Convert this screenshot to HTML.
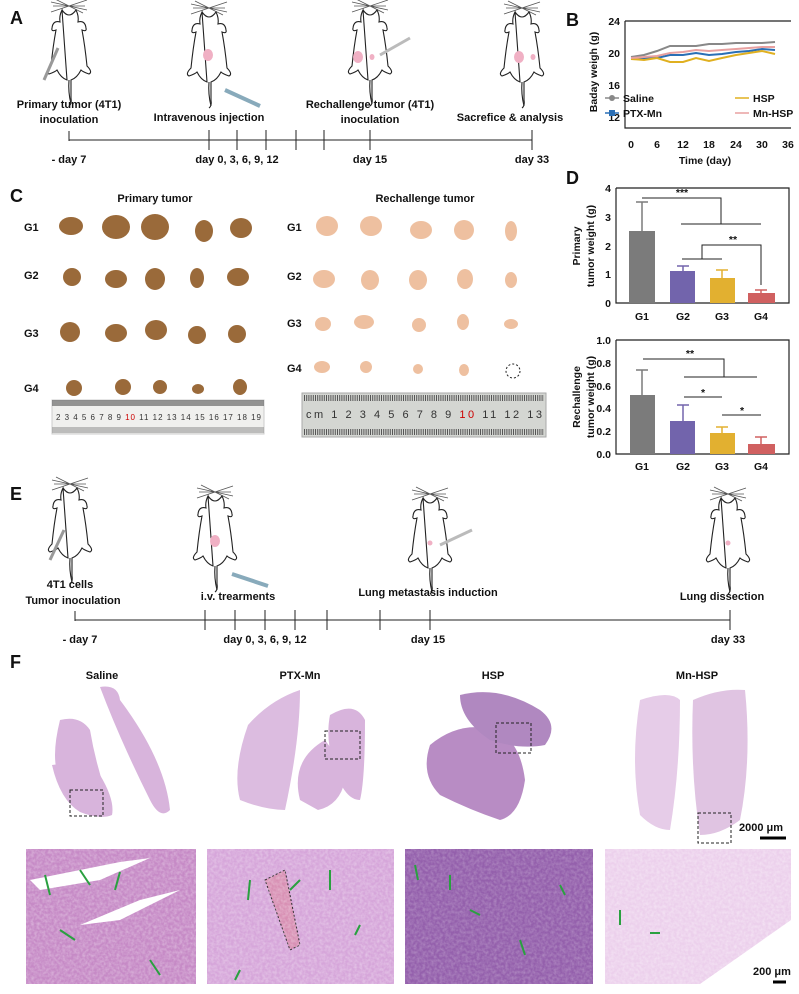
<!DOCTYPE html>
<html><head><meta charset="utf-8"><style>
html,body{margin:0;padding:0;background:#fff}
svg{display:block;font-family:"Liberation Sans",Arial,sans-serif}
.t{font-size:11px;font-weight:bold;fill:#111}
.L{font-size:18px;font-weight:bold;fill:#111}
.ax{font-size:10.5px;font-weight:bold;fill:#111}
</style></head><body>
<svg width="799" height="994" viewBox="0 0 799 994" xmlns="http://www.w3.org/2000/svg">
<defs>
<g id="mouse" fill="#fff" stroke="#222" stroke-width="1.1">
 <path d="M-18 6 L18 -6 M-18 -4 L18 4 M-16 0 L16 0 M-14 -7 L14 7" stroke="#555" stroke-width="0.8"/>
 <path d="M-7 4 Q0 14 7 4 Q10 10 9 16 Q16 14 17 22 Q18 26 13 24 Q16 40 18 60 Q24 66 20 68 Q14 66 12 64 Q8 72 2 74 L2 92 Q3 98 0 100 M-2 74 Q-8 72 -12 64 Q-14 66 -20 68 Q-24 66 -18 60 Q-16 40 -13 24 Q-18 26 -17 22 Q-16 14 -9 16 Q-10 10 -7 4 Z"/>
 <path d="M0 74 Q-1 86 2 98" fill="none"/>
</g>
<filter id="tex" x="0" y="0" width="100%" height="100%"><feTurbulence type="fractalNoise" baseFrequency="0.35" numOctaves="2" seed="3"/><feColorMatrix values="0 0 0 0 1  0 0 0 0 1  0 0 0 0 1  0 0 0 -1.6 1.1"/><feComposite in2="SourceGraphic" operator="in"/></filter>
</defs>

<!-- Panel A -->
<text x="10" y="24" class="L">A</text>
<use href="#mouse" x="69" y="6"/><use href="#mouse" x="209" y="8"/><use href="#mouse" x="370" y="6"/><use href="#mouse" x="522" y="8"/>
<line x1="44" y1="80" x2="58" y2="48" stroke="#999" stroke-width="3"/>
<line x1="225" y1="90" x2="260" y2="106" stroke="#8ab" stroke-width="4"/>
<line x1="380" y1="55" x2="410" y2="38" stroke="#bbb" stroke-width="3"/>
<ellipse cx="208" cy="55" rx="5" ry="6" fill="#f0b0c4"/>
<ellipse cx="358" cy="57" rx="5" ry="6" fill="#f0b0c4"/><ellipse cx="372" cy="57" rx="2.5" ry="3" fill="#f0b0c4"/>
<ellipse cx="519" cy="57" rx="5" ry="6" fill="#f0b0c4"/><ellipse cx="533" cy="57" rx="2.5" ry="3" fill="#f0b0c4"/>
<text x="69" y="108" class="t" text-anchor="middle">Primary tumor (4T1)</text>
<text x="69" y="123" class="t" text-anchor="middle">inoculation</text>
<text x="209" y="121" class="t" text-anchor="middle">Intravenous injection</text>
<text x="370" y="108" class="t" text-anchor="middle">Rechallenge tumor (4T1)</text>
<text x="370" y="123" class="t" text-anchor="middle">inoculation</text>
<text x="510" y="121" class="t" text-anchor="middle">Sacrefice &amp; analysis</text>
<g stroke="#222" stroke-width="1"><line x1="69" y1="140" x2="532" y2="140"/>
<line x1="69" y1="131" x2="69" y2="141"/><line x1="209" y1="130" x2="209" y2="150"/><line x1="237" y1="130" x2="237" y2="150"/><line x1="266" y1="130" x2="266" y2="150"/><line x1="296" y1="130" x2="296" y2="150"/><line x1="324" y1="130" x2="324" y2="150"/><line x1="370" y1="130" x2="370" y2="150"/><line x1="532" y1="130" x2="532" y2="150"/></g>
<text x="69" y="163" class="t" text-anchor="middle">- day 7</text>
<text x="237" y="163" class="t" text-anchor="middle">day 0, 3, 6, 9, 12</text>
<text x="370" y="163" class="t" text-anchor="middle">day 15</text>
<text x="532" y="163" class="t" text-anchor="middle">day 33</text>

<!-- Panel B -->
<text x="566" y="26" class="L">B</text>
<g stroke="#222" stroke-width="1.2" fill="none"><path d="M625 21 L625 128 L791 128"/><line x1="625" y1="21" x2="791" y2="21"/></g>
<g class="ax"><text x="620" y="25" text-anchor="end">24</text><text x="620" y="57" text-anchor="end">20</text><text x="620" y="89" text-anchor="end">16</text><text x="620" y="121" text-anchor="end">12</text>
<text x="631" y="148" text-anchor="middle">0</text><text x="657" y="148" text-anchor="middle">6</text><text x="683" y="148" text-anchor="middle">12</text><text x="709" y="148" text-anchor="middle">18</text><text x="736" y="148" text-anchor="middle">24</text><text x="762" y="148" text-anchor="middle">30</text><text x="788" y="148" text-anchor="middle">36</text>
<text x="705" y="164" text-anchor="middle">Time (day)</text>
<text transform="translate(597,72) rotate(-90)" text-anchor="middle">Baday weigh (g)</text></g>
<polyline points="631,57 644,55 657,51 670,46 683,46 696,46 709,44 722,44 736,43 749,43 762,43 775,42" fill="none" stroke="#888" stroke-width="2"/>
<polyline points="631,59 644,58 657,58 670,55 683,55 696,53 709,55 722,54 736,52 749,51 762,49 775,50" fill="none" stroke="#2a6fb5" stroke-width="2"/>
<polyline points="631,59 644,60 657,58 670,62 683,62 696,58 709,61 722,58 736,55 749,53 762,51 775,54" fill="none" stroke="#e0b020" stroke-width="2"/>
<polyline points="631,58 644,57 657,56 670,53 683,52 696,50 709,51 722,50 736,49 749,48 762,47 775,47" fill="none" stroke="#e8a0a0" stroke-width="2"/>
<circle cx="612" cy="98" r="3" fill="#888"/><line x1="605" y1="98" x2="619" y2="98" stroke="#888" stroke-width="1.5"/><text x="623" y="102" class="ax">Saline</text>
<rect x="609" y="110" width="6" height="6" fill="#2a6fb5"/><line x1="605" y1="113" x2="619" y2="113" stroke="#2a6fb5" stroke-width="1.5"/><text x="623" y="117" class="ax">PTX-Mn</text>
<line x1="735" y1="98" x2="749" y2="98" stroke="#e0b020" stroke-width="1.5"/><text x="753" y="102" class="ax">HSP</text>
<line x1="735" y1="113" x2="749" y2="113" stroke="#e8a0a0" stroke-width="1.5"/><text x="753" y="117" class="ax">Mn-HSP</text>

<!-- Panel C -->
<text x="10" y="202" class="L">C</text>
<text x="155" y="202" class="t" text-anchor="middle" font-size="12">Primary tumor</text>
<text x="425" y="202" class="t" text-anchor="middle" font-size="12">Rechallenge tumor</text>
<g class="t" font-size="12"><text x="24" y="231">G1</text><text x="24" y="279">G2</text><text x="24" y="337">G3</text><text x="24" y="392">G4</text>
<text x="287" y="231">G1</text><text x="287" y="280">G2</text><text x="287" y="327">G3</text><text x="287" y="372">G4</text></g>
<g fill="#9a6a3a">
<ellipse cx="71" cy="226" rx="12" ry="9"/><ellipse cx="116" cy="227" rx="14" ry="12"/><ellipse cx="155" cy="227" rx="14" ry="13"/><ellipse cx="204" cy="231" rx="9" ry="11"/><ellipse cx="241" cy="228" rx="11" ry="10"/>
<ellipse cx="72" cy="277" rx="9" ry="9"/><ellipse cx="116" cy="279" rx="11" ry="9"/><ellipse cx="155" cy="279" rx="10" ry="11"/><ellipse cx="197" cy="278" rx="7" ry="10"/><ellipse cx="238" cy="277" rx="11" ry="9"/>
<ellipse cx="70" cy="332" rx="10" ry="10"/><ellipse cx="116" cy="333" rx="11" ry="9"/><ellipse cx="156" cy="330" rx="11" ry="10"/><ellipse cx="197" cy="335" rx="9" ry="9"/><ellipse cx="237" cy="334" rx="9" ry="9"/>
<ellipse cx="74" cy="388" rx="8" ry="8"/><ellipse cx="123" cy="387" rx="8" ry="8"/><ellipse cx="160" cy="387" rx="7" ry="7"/><ellipse cx="198" cy="389" rx="6" ry="5"/><ellipse cx="240" cy="387" rx="7" ry="8"/></g>
<g fill="#eec0a0">
<ellipse cx="327" cy="226" rx="11" ry="10"/><ellipse cx="371" cy="226" rx="11" ry="10"/><ellipse cx="421" cy="230" rx="11" ry="9"/><ellipse cx="464" cy="230" rx="10" ry="10"/><ellipse cx="511" cy="231" rx="6" ry="10"/>
<ellipse cx="324" cy="279" rx="11" ry="9"/><ellipse cx="370" cy="280" rx="9" ry="10"/><ellipse cx="418" cy="280" rx="9" ry="10"/><ellipse cx="465" cy="279" rx="8" ry="10"/><ellipse cx="511" cy="280" rx="6" ry="8"/>
<ellipse cx="323" cy="324" rx="8" ry="7"/><ellipse cx="364" cy="322" rx="10" ry="7"/><ellipse cx="419" cy="325" rx="7" ry="7"/><ellipse cx="463" cy="322" rx="6" ry="8"/><ellipse cx="511" cy="324" rx="7" ry="5"/>
<ellipse cx="322" cy="367" rx="8" ry="6"/><ellipse cx="366" cy="367" rx="6" ry="6"/><ellipse cx="418" cy="369" rx="5" ry="5"/><ellipse cx="464" cy="370" rx="5" ry="6"/></g>
<circle cx="513" cy="371" r="7" fill="none" stroke="#222" stroke-dasharray="2,2"/>
<rect x="52" y="400" width="212" height="34" fill="#f0f0ee" stroke="#ccc"/>
<rect x="52" y="400" width="212" height="6" fill="#555" opacity="0.6"/>
<rect x="52" y="427" width="212" height="6" fill="#888" opacity="0.5"/>
<text x="56" y="420" font-size="8" fill="#333" textLength="205">2  3  4  5  6  7  8  9  <tspan fill="#c00">10</tspan> 11 12 13 14 15 16 17 18 19</text>
<rect x="302" y="393" width="244" height="44" fill="#d4d6d2" stroke="#aaa"/>
<g stroke="#555" stroke-width="0.6"><line x1="304" y1="398" x2="544" y2="398" stroke-dasharray="1,1.2" stroke-width="6"/><line x1="304" y1="432" x2="544" y2="432" stroke-dasharray="1,1.2" stroke-width="6"/></g>
<text x="306" y="418" font-size="11" fill="#333" textLength="236">cm 1   2   3   4   5   6   7   8   9  <tspan fill="#c00">10</tspan> 11  12  13</text>

<!-- Panel D -->
<text x="566" y="184" class="L">D</text>
<g stroke="#222" stroke-width="1.2" fill="none"><path d="M616 188 L616 303 L789 303 L789 188 L616 188"/><path d="M616 340 L616 454 L789 454 L789 340 L616 340"/></g>
<g class="ax"><text x="611" y="192" text-anchor="end">4</text><text x="611" y="221" text-anchor="end">3</text><text x="611" y="250" text-anchor="end">2</text><text x="611" y="278" text-anchor="end">1</text><text x="611" y="307" text-anchor="end">0</text>
<text x="642" y="320" text-anchor="middle">G1</text><text x="683" y="320" text-anchor="middle">G2</text><text x="722" y="320" text-anchor="middle">G3</text><text x="761" y="320" text-anchor="middle">G4</text>
<text x="611" y="344" text-anchor="end">1.0</text><text x="611" y="367" text-anchor="end">0.8</text><text x="611" y="390" text-anchor="end">0.6</text><text x="611" y="412" text-anchor="end">0.4</text><text x="611" y="435" text-anchor="end">0.2</text><text x="611" y="458" text-anchor="end">0.0</text>
<text x="642" y="470" text-anchor="middle">G1</text><text x="683" y="470" text-anchor="middle">G2</text><text x="722" y="470" text-anchor="middle">G3</text><text x="761" y="470" text-anchor="middle">G4</text>
<text transform="translate(580,246) rotate(-90)" text-anchor="middle">Primary</text><text transform="translate(594,246) rotate(-90)" text-anchor="middle">tumor weight (g)</text>
<text transform="translate(580,397) rotate(-90)" text-anchor="middle">Rechallenge</text><text transform="translate(594,397) rotate(-90)" text-anchor="middle">tumor weight  (g)</text></g>
<rect x="629" y="231" width="26" height="72" fill="#7b7b7b"/><line x1="642" y1="231" x2="642" y2="202" stroke="#7b7b7b" stroke-width="1.5"/><line x1="636" y1="202" x2="648" y2="202" stroke="#7b7b7b" stroke-width="1.5"/>
<rect x="670" y="271" width="25" height="32" fill="#7264ac"/><line x1="683" y1="271" x2="683" y2="266" stroke="#7264ac" stroke-width="1.5"/><line x1="677" y1="266" x2="689" y2="266" stroke="#7264ac" stroke-width="1.5"/>
<rect x="710" y="278" width="25" height="25" fill="#e2b030"/><line x1="722" y1="278" x2="722" y2="270" stroke="#e2b030" stroke-width="1.5"/><line x1="716" y1="270" x2="728" y2="270" stroke="#e2b030" stroke-width="1.5"/>
<rect x="748" y="293" width="27" height="10" fill="#d06060"/><line x1="761" y1="293" x2="761" y2="290" stroke="#d06060" stroke-width="1.5"/><line x1="755" y1="290" x2="767" y2="290" stroke="#d06060" stroke-width="1.5"/>
<g stroke="#222" stroke-width="1" fill="none"><path d="M642 198 L721 198 L721 224 M681 224 L761 224"/><path d="M682 259 L722 259 M702 259 L702 245 L761 245 L761 285"/>
<path d="M643 359 L724 359 L724 377 M684 377 L757 377"/><path d="M684 397 L722 397"/><path d="M722 415 L761 415"/></g>
<g class="ax" font-size="13"><text x="682" y="196" text-anchor="middle">***</text><text x="733" y="243" text-anchor="middle">**</text>
<text x="690" y="357" text-anchor="middle">**</text><text x="703" y="396" text-anchor="middle">*</text><text x="742" y="414" text-anchor="middle">*</text></g>
<rect x="630" y="395" width="25" height="59" fill="#7b7b7b"/><line x1="642" y1="395" x2="642" y2="370" stroke="#7b7b7b" stroke-width="1.5"/><line x1="636" y1="370" x2="648" y2="370" stroke="#7b7b7b" stroke-width="1.5"/>
<rect x="670" y="421" width="25" height="33" fill="#7264ac"/><line x1="683" y1="421" x2="683" y2="405" stroke="#7264ac" stroke-width="1.5"/><line x1="677" y1="405" x2="689" y2="405" stroke="#7264ac" stroke-width="1.5"/>
<rect x="710" y="433" width="25" height="21" fill="#e2b030"/><line x1="722" y1="433" x2="722" y2="427" stroke="#e2b030" stroke-width="1.5"/><line x1="716" y1="427" x2="728" y2="427" stroke="#e2b030" stroke-width="1.5"/>
<rect x="748" y="444" width="27" height="10" fill="#d06060"/><line x1="761" y1="444" x2="761" y2="437" stroke="#d06060" stroke-width="1.5"/><line x1="755" y1="437" x2="767" y2="437" stroke="#d06060" stroke-width="1.5"/>

<!-- Panel E -->
<text x="10" y="500" class="L">E</text>
<use href="#mouse" x="70" y="484"/><use href="#mouse" x="215" y="492"/><use href="#mouse" x="430" y="494"/><use href="#mouse" x="728" y="494"/>
<line x1="50" y1="560" x2="64" y2="530" stroke="#999" stroke-width="3"/>
<line x1="232" y1="574" x2="268" y2="586" stroke="#8ab" stroke-width="4"/>
<line x1="440" y1="545" x2="472" y2="530" stroke="#bbb" stroke-width="3"/>
<ellipse cx="215" cy="541" rx="5" ry="6" fill="#f0b0c4"/><circle cx="430" cy="543" r="2.5" fill="#f0b0c4"/><circle cx="728" cy="543" r="2.5" fill="#f0b0c4"/>
<text x="70" y="588" class="t" text-anchor="middle">4T1 cells</text><text x="73" y="604" class="t" text-anchor="middle">Tumor inoculation</text>
<text x="238" y="600" class="t" text-anchor="middle">i.v. trearments</text>
<text x="428" y="596" class="t" text-anchor="middle">Lung metastasis induction</text>
<text x="722" y="600" class="t" text-anchor="middle">Lung dissection</text>
<g stroke="#222" stroke-width="1"><line x1="75" y1="620" x2="730" y2="620"/>
<line x1="75" y1="611" x2="75" y2="621"/><line x1="205" y1="610" x2="205" y2="630"/><line x1="235" y1="610" x2="235" y2="630"/><line x1="265" y1="610" x2="265" y2="630"/><line x1="295" y1="610" x2="295" y2="630"/><line x1="327" y1="610" x2="327" y2="630"/><line x1="380" y1="610" x2="380" y2="630"/><line x1="430" y1="610" x2="430" y2="630"/><line x1="730" y1="610" x2="730" y2="630"/></g>
<text x="80" y="643" class="t" text-anchor="middle">- day 7</text><text x="265" y="643" class="t" text-anchor="middle">day 0, 3, 6, 9, 12</text>
<text x="428" y="643" class="t" text-anchor="middle">day 15</text><text x="728" y="643" class="t" text-anchor="middle">day 33</text>

<!-- Panel F -->
<text x="10" y="668" class="L">F</text>
<g class="t"><text x="102" y="679" text-anchor="middle">Saline</text><text x="300" y="679" text-anchor="middle">PTX-Mn</text><text x="493" y="679" text-anchor="middle">HSP</text><text x="697" y="679" text-anchor="middle">Mn-HSP</text></g>
<g fill="#d8b4dc">
<path d="M100 687 Q118 684 120 700 Q165 760 170 810 Q160 820 150 800 Q120 740 100 687Z"/>
<path d="M60 720 Q80 715 90 730 Q95 760 105 790 Q100 800 80 790 L60 780 Q50 760 60 720Z"/>
<path d="M52 765 Q80 760 100 775 Q115 800 112 815 Q100 820 80 812 Q60 800 52 765Z"/>
<path d="M248 725 Q270 700 300 690 Q300 740 285 810 Q265 810 240 800 Q232 770 248 725Z" fill="#dcbce0"/>
<path d="M300 800 Q290 760 325 740 Q340 760 345 780 Q340 805 318 810Z"/>
<path d="M330 715 Q355 700 365 720 Q365 780 360 800 Q345 800 335 770 Q325 740 330 715Z"/>
<path d="M430 745 Q460 720 495 730 Q520 740 525 780 Q520 815 500 820 Q470 810 440 795 Q420 775 430 745Z" fill="#b88cc4"/>
<path d="M460 695 Q500 685 540 710 Q560 725 545 745 Q520 750 490 740 Q460 720 460 695Z" fill="#b088c0"/>
<path d="M640 700 Q670 690 680 700 Q680 770 670 830 Q655 830 640 815 Q630 760 640 700Z" fill="#e6cce8"/>
<path d="M693 700 Q720 688 745 690 Q752 760 740 820 Q720 835 700 835 Q690 770 693 700Z" fill="#e0c4e2"/></g>
<g fill="none" stroke="#222" stroke-dasharray="3,2"><rect x="70" y="790" width="33" height="26"/><rect x="325" y="731" width="35" height="28"/><rect x="496" y="723" width="35" height="30"/><rect x="698" y="813" width="33" height="30"/></g>
<line x1="760" y1="838" x2="786" y2="838" stroke="#000" stroke-width="3"/>
<text x="739" y="831" class="t">2000 μm</text>
<rect x="26" y="849" width="170" height="135" fill="#c68ac6"/>
<path d="M30 880 L120 862 L150 858 L100 880 L40 890Z M80 925 L140 900 L180 890 L120 920Z" fill="#fff"/>
<rect x="207" y="849" width="187" height="135" fill="#d6a6da"/>
<path d="M265 880 L285 870 L300 945 L290 950Z" fill="#d890b4" stroke="#222" stroke-dasharray="2,2"/>
<rect x="405" y="849" width="188" height="135" fill="#9460ac"/>
<rect x="605" y="849" width="186" height="135" fill="#ecd0ec"/>
<path d="M700 984 L791 920 L791 984Z" fill="#fff"/>
<g filter="url(#tex)"><rect x="26" y="849" width="170" height="135" fill="#fff" opacity="0.35"/><rect x="207" y="849" width="187" height="135" fill="#fff" opacity="0.35"/><rect x="405" y="849" width="188" height="135" fill="#fff" opacity="0.25"/><rect x="605" y="849" width="186" height="135" fill="#fff" opacity="0.4"/></g>
<g stroke="#2aa040" stroke-width="2"><line x1="45" y1="875" x2="50" y2="895"/><line x1="80" y1="870" x2="90" y2="885"/><line x1="115" y1="890" x2="120" y2="872"/><line x1="60" y1="930" x2="75" y2="940"/><line x1="150" y1="960" x2="160" y2="975"/>
<line x1="250" y1="880" x2="248" y2="900"/><line x1="300" y1="880" x2="290" y2="890"/><line x1="330" y1="870" x2="330" y2="890"/><line x1="360" y1="925" x2="355" y2="935"/><line x1="240" y1="970" x2="235" y2="980"/>
<line x1="415" y1="865" x2="418" y2="880"/><line x1="450" y1="875" x2="450" y2="890"/><line x1="470" y1="910" x2="480" y2="915"/><line x1="520" y1="940" x2="525" y2="955"/><line x1="560" y1="885" x2="565" y2="895"/>
<line x1="620" y1="910" x2="620" y2="925"/><line x1="650" y1="933" x2="660" y2="933"/></g>
<line x1="773" y1="982" x2="786" y2="982" stroke="#000" stroke-width="3"/>
<text x="753" y="975" class="t">200 μm</text>
</svg>
</body></html>
